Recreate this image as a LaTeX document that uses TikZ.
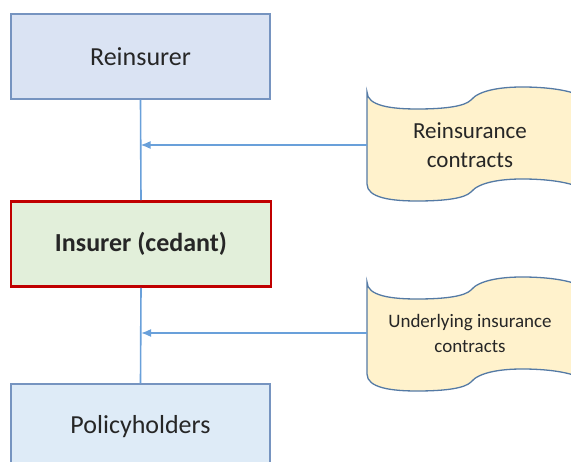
\documentclass[tikz,border=0pt]{standalone}
\usepackage{fontspec}
\setmainfont{Carlito}
\usetikzlibrary{arrows.meta}

\definecolor{bordeazul}{RGB}{118,148,192}
\definecolor{fondoazul}{RGB}{218,227,243}
\definecolor{fondoazulclaro}{RGB}{222,235,247}
\definecolor{rojo}{RGB}{192,0,0}
\definecolor{fondoverde}{RGB}{226,239,218}
\definecolor{fondoonda}{RGB}{255,242,204}
\definecolor{bordeonda}{RGB}{84,122,165}
\definecolor{linea}{RGB}{105,160,218}
\definecolor{texto}{RGB}{38,38,38}

\tikzset{
  caja/.style={draw=bordeazul, fill=fondoazul, line width=1.4pt,
    minimum width=259pt, minimum height=85pt, inner sep=0pt,
    text=texto, font=\fontsize{26}{30}\selectfont},
  conector/.style={draw=linea, line width=1.6pt},
  flecha/.style={conector, -{Latex[length=10pt,width=8pt]}},
  etiqueta/.style={minimum width=206pt, inner sep=0pt, align=center, text=texto},
  pics/pergamino/.style={code={
    \path[draw=bordeonda, fill=fondoonda, line width=1.3pt]
      (0,0) .. controls (0,14) and (25,17) .. (50,17)
      .. controls (80,17) and (98,14) .. (104,8)
      .. controls (112,-2) and (135,-5) .. (155,-5)
      .. controls (180,-5) and (200,-2) .. (212,3)
      -- (212,95)
      .. controls (200,90) and (180,87) .. (155,87)
      .. controls (135,87) and (112,90) .. (104,100)
      .. controls (98,106) and (80,109) .. (50,109)
      .. controls (25,109) and (0,106) .. (0,92) -- cycle;
  }}
}

\begin{document}
\begin{tikzpicture}[x=1pt, y=-1pt]
    % Marco del dibujo.
    \useasboundingbox (0,0) rectangle (571,462);
    \clip (0,0) rectangle (571,462);

    % Dibuja las tres cajas de la cadena.
    \node[caja] (reasegurador) at (140.5,56.5) {Reinsurer};
    \node[caja, draw=rojo, fill=fondoverde, line width=2.8pt,
      minimum width=260pt, font=\fontsize{26}{30}\selectfont\bfseries]
      (asegurador) at (141,244) {Insurer (cedant)};
    \node[caja, fill=fondoazulclaro] (asegurados) at (140.5,426.5) {Policyholders};

    % Une las cajas con las lineas verticales.
    \draw[conector] (reasegurador.south) -- (asegurador.north);
    \draw[conector] (asegurador.south) -- (asegurados.north);

    % Dibuja los pergaminos de los contratos.
    \pic at (367,92) {pergamino};
    \pic at (367,282) {pergamino};

    % Etiqueta los contratos.
    \node[etiqueta, font=\fontsize{23}{29}\selectfont]
      (contratosR) at (470,145) {Reinsurance\\contracts};
    \node[etiqueta, font=\fontsize{19}{25}\selectfont]
      (contratosS) at (470,333) {Underlying insurance\\contracts};

    % Flechas de los contratos hacia las lineas.
    \draw[flecha] (contratosR.west) -- (contratosR.west -| reasegurador.south);
    \draw[flecha] (contratosS.west) -- (contratosS.west -| asegurador.south);
\end{tikzpicture}
\end{document}
